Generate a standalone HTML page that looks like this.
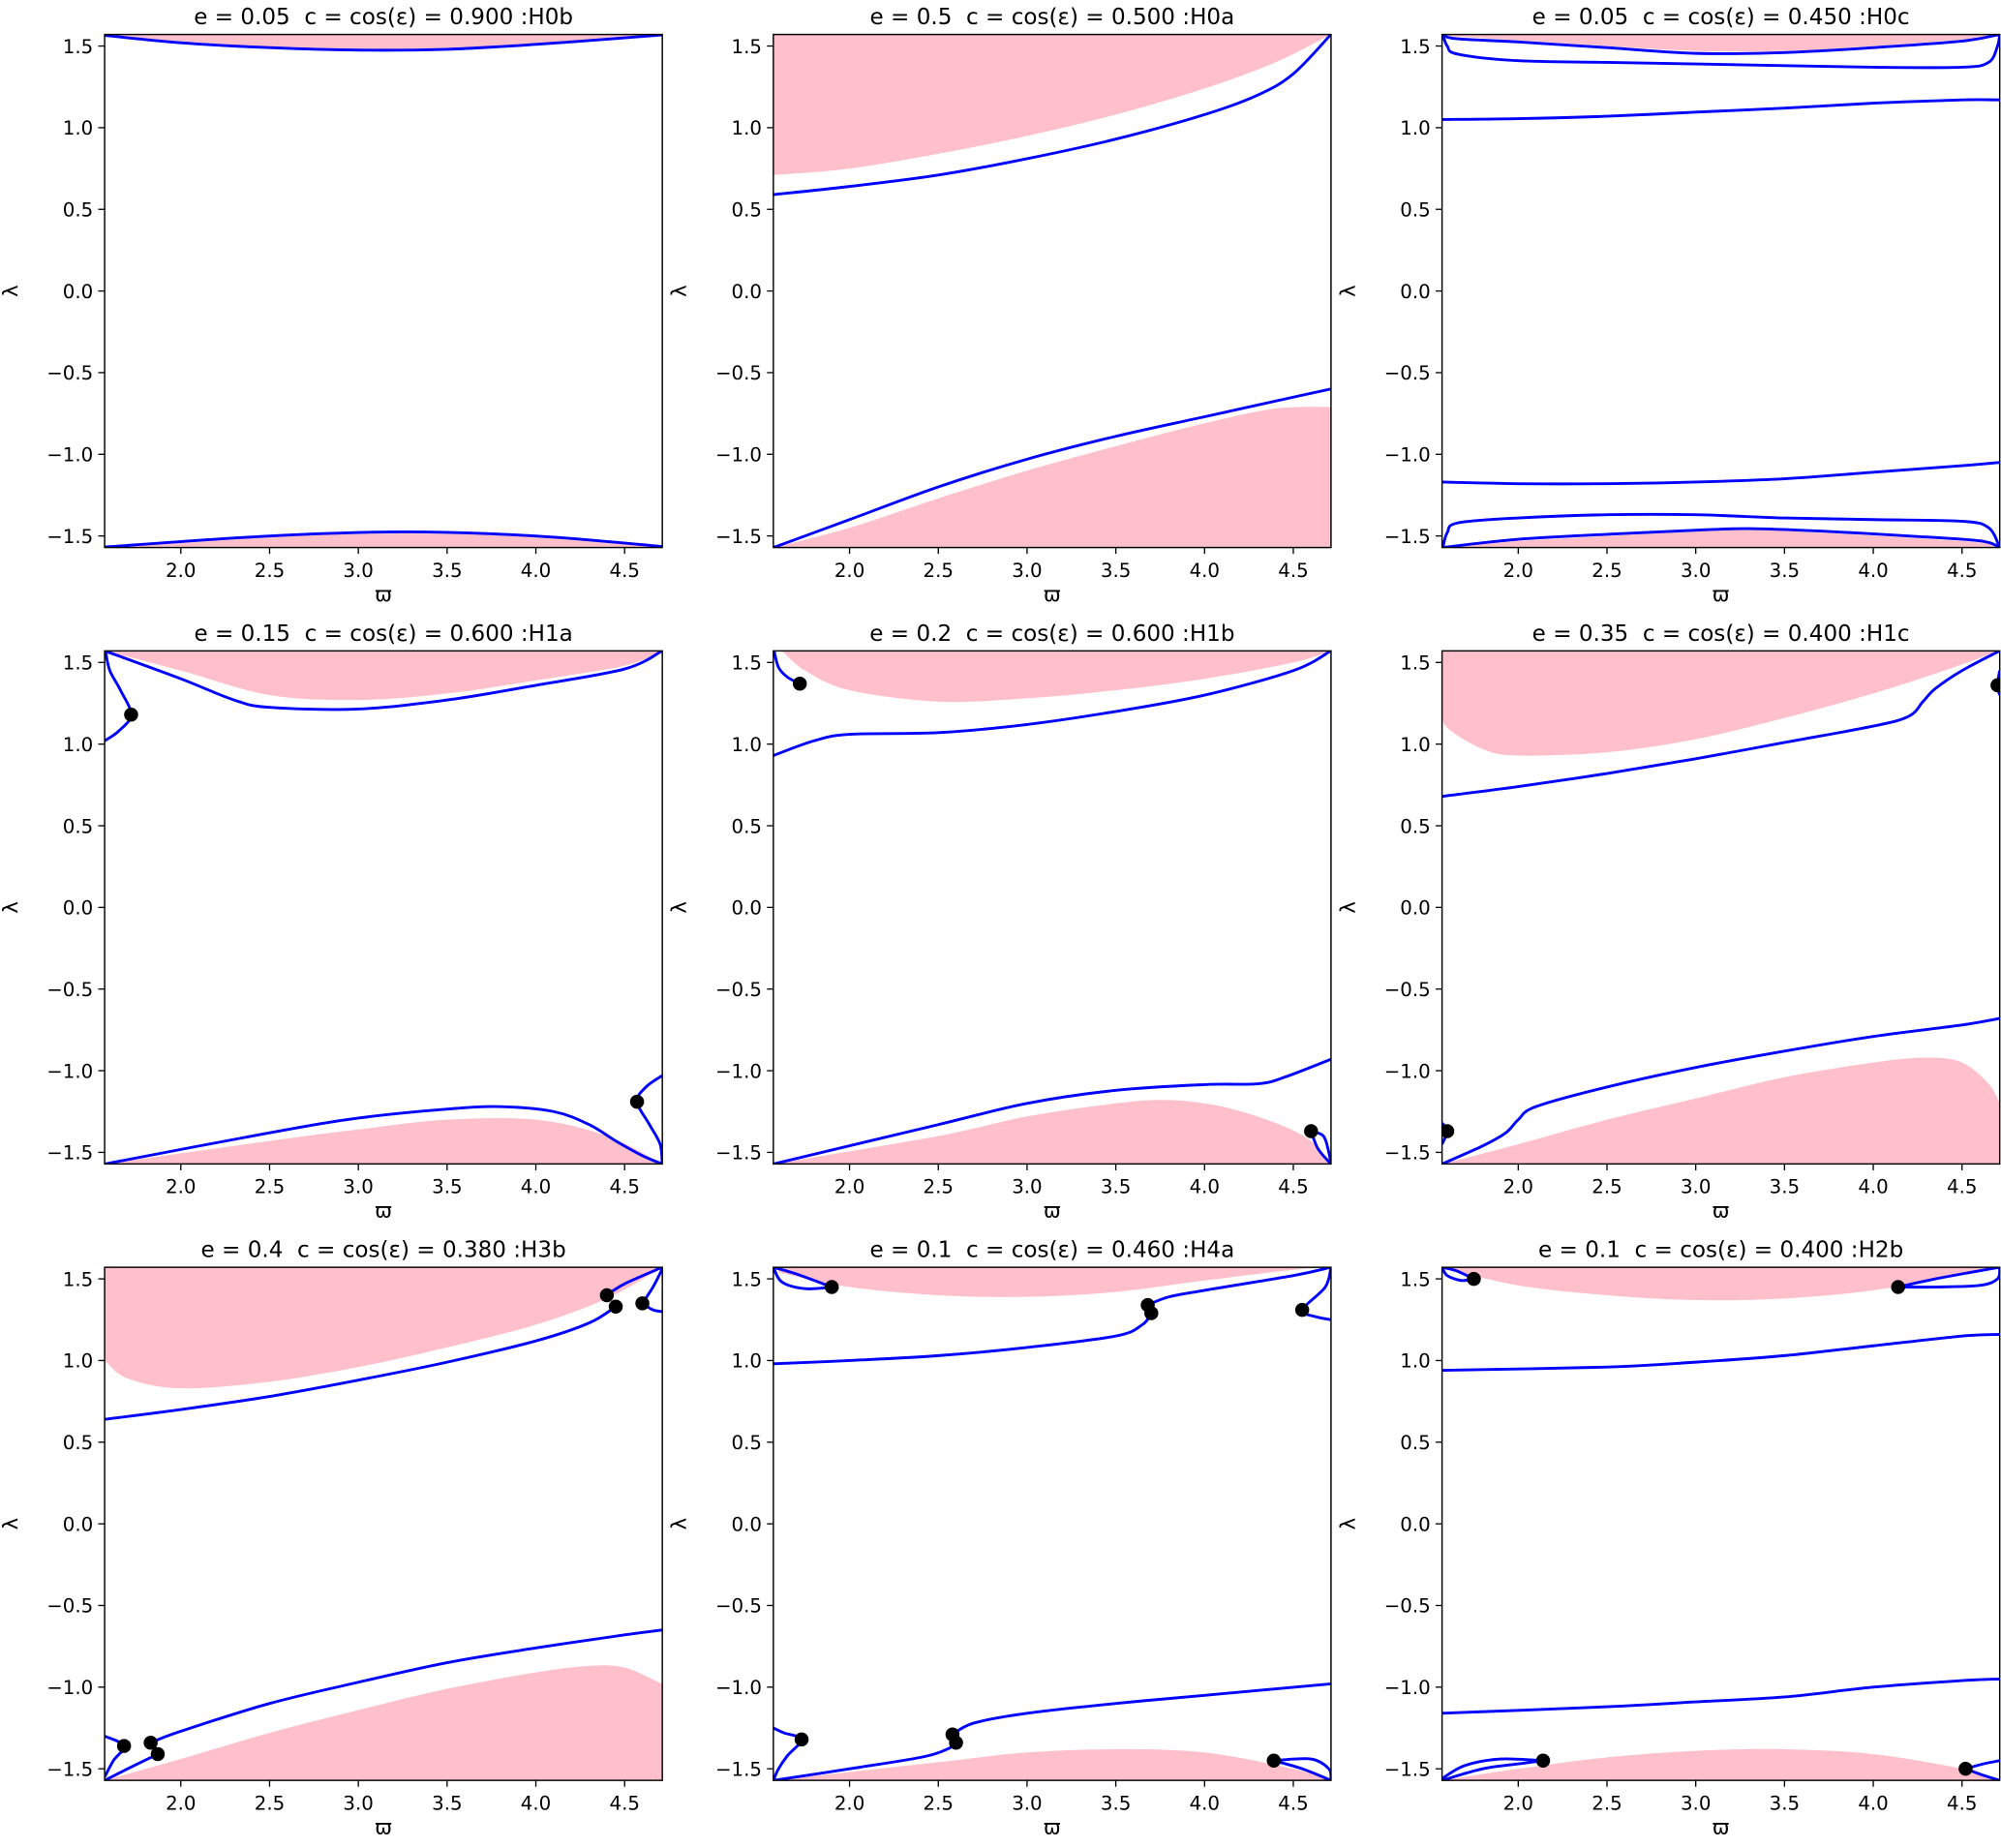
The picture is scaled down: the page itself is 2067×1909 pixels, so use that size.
<!DOCTYPE html>
<html>
<head>
<meta charset="utf-8">
<style>
html,body{margin:0;padding:0;background:#fff;}
svg{display:block;}
text{font-family:"DejaVu Sans","Liberation Sans",sans-serif;fill:#000;white-space:pre;}
</style>
</head>
<body>
<svg id="fig" xmlns="http://www.w3.org/2000/svg" xml:space="preserve" width="2067" height="1909" viewBox="0 0 1568 1448" preserveAspectRatio="none"></svg>
<script>
const panelTitles = [
 "e = 0.05  c = cos(\u03b5) = 0.900 :H0b",
 "e = 0.5  c = cos(\u03b5) = 0.500 :H0a",
 "e = 0.05  c = cos(\u03b5) = 0.450 :H0c",
 "e = 0.15  c = cos(\u03b5) = 0.600 :H1a",
 "e = 0.2  c = cos(\u03b5) = 0.600 :H1b",
 "e = 0.35  c = cos(\u03b5) = 0.400 :H1c",
 "e = 0.4  c = cos(\u03b5) = 0.380 :H3b",
 "e = 0.1  c = cos(\u03b5) = 0.460 :H4a",
 "e = 0.1  c = cos(\u03b5) = 0.400 :H2b"
];
const xTicks = [2.0,2.5,3.0,3.5,4.0,4.5];
const yTicks = [-1.5,-1.0,-0.5,0.0,0.5,1.0,1.5];
const xTickLabels = ["2.0","2.5","3.0","3.5","4.0","4.5"];
const yTickLabels = ["\u22121.5","\u22121.0","\u22120.5","0.0","0.5","1.0","1.5"];
const H = 1.5708, XMIN = 1.5708, XMAX = 4.7124;

const panelPinkTop = [
 [[1.571,1.562],[2.0,1.525],[2.5,1.495],[3.0,1.482],[3.5,1.487],[4.0,1.515],[4.5,1.553],[4.712,1.571]],
 [[1.571,0.71],[2.0,0.75],[2.5,0.84],[3.0,0.95],[3.5,1.08],[4.0,1.24],[4.4,1.4],[4.712,1.571]],
 [[1.6,1.56],[2.0,1.535],[2.5,1.50],[3.0,1.47],[3.5,1.47],[4.0,1.50],[4.5,1.54],[4.712,1.571]],
 [[1.571,1.571],[2.0,1.45],[2.5,1.30],[3.0,1.27],[3.5,1.31],[4.0,1.39],[4.5,1.48],[4.712,1.571]],
 [[1.62,1.571],[1.75,1.45],[2.0,1.33],[2.5,1.26],[3.0,1.28],[3.5,1.33],[4.0,1.40],[4.5,1.50],[4.712,1.571]],
 [[1.571,1.2],[1.6,1.1],[1.8,0.97],[2.0,0.93],[2.5,0.95],[3.0,1.03],[3.5,1.16],[4.0,1.31],[4.4,1.45],[4.712,1.571]],
 [[1.571,1.0],[1.7,0.89],[2.0,0.83],[2.5,0.87],[3.0,0.96],[3.5,1.08],[4.0,1.22],[4.4,1.38],[4.712,1.571]],
 [[1.6,1.54],[2.0,1.45],[2.5,1.40],[3.0,1.39],[3.5,1.42],[4.0,1.49],[4.5,1.555],[4.712,1.571]],
 [[1.6,1.56],[2.0,1.46],[2.5,1.40],[3.0,1.37],[3.5,1.38],[4.0,1.43],[4.5,1.53],[4.712,1.571]]
];
const panelPinkBottom = [
 [[1.571,-1.562],[2.5,-1.505],[3.25,-1.485],[4.0,-1.505],[4.712,-1.56]],
 [[1.571,-1.571],[2.0,-1.45],[2.5,-1.27],[3.0,-1.1],[3.5,-0.95],[4.0,-0.81],[4.4,-0.72],[4.712,-0.71]],
 [[1.571,-1.571],[2.0,-1.53],[2.5,-1.50],[3.0,-1.47],[3.3,-1.46],[3.7,-1.48],[4.2,-1.51],[4.6,-1.54],[4.712,-1.571]],
 [[1.571,-1.571],[2.5,-1.43],[3.0,-1.36],[3.5,-1.30],[4.0,-1.30],[4.4,-1.40],[4.712,-1.571]],
 [[1.571,-1.571],[2.5,-1.40],[3.0,-1.28],[3.5,-1.20],[3.8,-1.18],[4.1,-1.22],[4.4,-1.32],[4.6,-1.43],[4.712,-1.571]],
 [[1.571,-1.571],[2.0,-1.45],[2.5,-1.30],[3.0,-1.17],[3.5,-1.04],[4.0,-0.95],[4.3,-0.92],[4.5,-0.95],[4.65,-1.08],[4.712,-1.2]],
 [[1.571,-1.571],[2.0,-1.44],[2.5,-1.28],[3.0,-1.14],[3.5,-1.01],[4.0,-0.91],[4.3,-0.87],[4.5,-0.88],[4.712,-0.98]],
 [[1.571,-1.571],[2.5,-1.46],[3.0,-1.40],[3.5,-1.38],[4.0,-1.40],[4.5,-1.50],[4.712,-1.571]],
 [[1.571,-1.571],[2.0,-1.50],[2.5,-1.43],[3.0,-1.39],[3.5,-1.38],[4.0,-1.41],[4.5,-1.50],[4.712,-1.571]]
];
const panelCurves = [
 [
  [[1.571,1.565],[2.0,1.52],[2.5,1.49],[3.0,1.475],[3.5,1.48],[4.0,1.51],[4.5,1.55],[4.712,1.568]],
  [[1.571,-1.568],[2.5,-1.5],[3.25,-1.475],[4.0,-1.5],[4.712,-1.565]]
 ],
 [
  [[1.571,0.59],[2.0,0.64],[2.5,0.71],[3.0,0.81],[3.5,0.93],[4.0,1.08],[4.3,1.2],[4.5,1.33],[4.712,1.571]],
  [[1.571,-1.571],[2.0,-1.4],[2.5,-1.2],[3.0,-1.03],[3.5,-0.89],[4.0,-0.77],[4.5,-0.65],[4.712,-0.6]]
 ],
 [
  [[1.575,1.571],[1.65,1.545],[2.0,1.525],[2.5,1.49],[3.0,1.455],[3.5,1.46],[4.0,1.49],[4.5,1.53],[4.712,1.571]],
  [[1.575,1.571],[1.6,1.50],[1.66,1.45],[2.0,1.41],[2.5,1.40],[3.0,1.39],[3.5,1.38],[4.0,1.37],[4.5,1.37],[4.65,1.40],[4.70,1.50],[4.712,1.571]],
  [[1.571,1.05],[2.0,1.055],[2.5,1.07],[3.0,1.095],[3.5,1.12],[4.0,1.15],[4.5,1.17],[4.712,1.17]],
  [[1.571,-1.17],[2.0,-1.18],[2.5,-1.18],[3.0,-1.17],[3.5,-1.15],[4.0,-1.11],[4.5,-1.07],[4.712,-1.05]],
  [[1.575,-1.571],[1.6,-1.48],[1.66,-1.42],[2.0,-1.39],[2.5,-1.37],[3.0,-1.37],[3.5,-1.39],[4.0,-1.40],[4.5,-1.41],[4.65,-1.45],[4.712,-1.571]],
  [[1.571,-1.571],[2.0,-1.52],[2.5,-1.49],[3.0,-1.465],[3.3,-1.455],[3.7,-1.47],[4.2,-1.5],[4.6,-1.53],[4.712,-1.571]]
 ],
 [
  [[1.571,1.571],[2.0,1.40],[2.3,1.27],[2.5,1.225],[3.0,1.215],[3.5,1.27],[4.0,1.36],[4.5,1.46],[4.712,1.571]],
  [[1.571,1.02],[1.65,1.08],[1.72,1.18],[1.66,1.33],[1.6,1.45],[1.575,1.571]],
  [[1.571,-1.571],[2.5,-1.38],[3.0,-1.29],[3.5,-1.235],[3.8,-1.22],[4.1,-1.25],[4.3,-1.33],[4.45,-1.43],[4.6,-1.52],[4.712,-1.571]],
  [[4.712,-1.03],[4.62,-1.10],[4.57,-1.19],[4.64,-1.33],[4.7,-1.45],[4.712,-1.571]]
 ],
 [
  [[1.571,0.93],[1.8,1.02],[2.0,1.06],[2.5,1.07],[3.0,1.12],[3.5,1.2],[4.0,1.3],[4.5,1.45],[4.712,1.571]],
  [[1.575,1.571],[1.6,1.47],[1.65,1.41],[1.72,1.37]],
  [[1.571,-1.571],[2.5,-1.33],[3.0,-1.2],[3.5,-1.12],[4.0,-1.085],[4.3,-1.08],[4.45,-1.04],[4.712,-0.93]],
  [[4.6,-1.37],[4.67,-1.4],[4.7,-1.5],[4.712,-1.571]],
  [[4.6,-1.37],[4.64,-1.48],[4.712,-1.571]]
 ],
 [
  [[1.571,0.68],[2.0,0.74],[2.5,0.82],[3.0,0.91],[3.5,1.01],[4.0,1.11],[4.2,1.17],[4.28,1.26],[4.35,1.34],[4.5,1.45],[4.712,1.571]],
  [[4.712,1.3],[4.7,1.36],[4.712,1.45]],
  [[1.571,-1.571],[1.8,-1.46],[1.93,-1.38],[2.0,-1.3],[2.1,-1.22],[2.5,-1.1],[3.0,-0.98],[3.5,-0.88],[4.0,-0.79],[4.5,-0.72],[4.712,-0.68]],
  [[1.571,-1.32],[1.6,-1.37],[1.571,-1.45]]
 ],
 [
  [[1.571,0.64],[2.0,0.7],[2.5,0.78],[3.0,0.88],[3.5,0.99],[4.0,1.12],[4.3,1.23],[4.45,1.33]],
  [[4.4,1.4],[4.5,1.47],[4.712,1.571]],
  [[4.6,1.35],[4.66,1.45],[4.712,1.56]],
  [[4.6,1.35],[4.66,1.31],[4.712,1.3]],
  [[1.83,-1.34],[2.0,-1.27],[2.5,-1.1],[3.0,-0.97],[3.5,-0.85],[4.0,-0.76],[4.5,-0.68],[4.712,-0.65]],
  [[1.571,-1.3],[1.68,-1.36],[1.62,-1.45],[1.571,-1.55]],
  [[1.571,-1.571],[1.7,-1.5],[1.87,-1.41]]
 ],
 [
  [[1.571,1.571],[1.62,1.48],[1.75,1.44],[1.9,1.45]],
  [[1.571,1.571],[1.7,1.53],[1.9,1.45]],
  [[1.571,0.98],[2.0,1.0],[2.5,1.03],[3.0,1.08],[3.5,1.15],[3.65,1.22],[3.7,1.29]],
  [[3.68,1.34],[3.8,1.39],[4.0,1.43],[4.5,1.52],[4.712,1.571]],
  [[4.712,1.571],[4.68,1.45],[4.55,1.31],[4.62,1.27],[4.712,1.25]],
  [[1.571,-1.571],[2.0,-1.5],[2.4,-1.43],[2.55,-1.38],[2.6,-1.34]],
  [[2.58,-1.29],[2.7,-1.22],[3.0,-1.16],[3.5,-1.1],[4.0,-1.05],[4.712,-0.98]],
  [[1.571,-1.25],[1.63,-1.28],[1.73,-1.32],[1.65,-1.42],[1.6,-1.5],[1.571,-1.571]],
  [[4.39,-1.45],[4.55,-1.5],[4.712,-1.571]],
  [[4.39,-1.45],[4.6,-1.44],[4.7,-1.5],[4.712,-1.571]]
 ],
 [
  [[1.571,0.94],[2.5,0.96],[3.0,0.99],[3.5,1.03],[4.0,1.09],[4.5,1.15],[4.712,1.16]],
  [[1.571,1.571],[1.6,1.52],[1.68,1.49],[1.75,1.5]],
  [[1.571,1.571],[1.65,1.55],[1.75,1.5]],
  [[4.14,1.45],[4.35,1.45],[4.6,1.46],[4.7,1.5],[4.712,1.571]],
  [[4.14,1.45],[4.35,1.5],[4.6,1.55],[4.712,1.571]],
  [[1.571,-1.16],[2.5,-1.12],[3.0,-1.09],[3.5,-1.06],[4.0,-1.0],[4.5,-0.96],[4.712,-0.95]],
  [[1.571,-1.56],[1.7,-1.48],[1.9,-1.44],[2.14,-1.45]],
  [[1.571,-1.571],[1.8,-1.5],[2.0,-1.47],[2.14,-1.45]],
  [[4.52,-1.5],[4.62,-1.47],[4.712,-1.45]],
  [[4.52,-1.5],[4.62,-1.54],[4.712,-1.571]]
 ]
];
const panelDots = [
 [],[],[],
 [[1.72,1.18],[4.57,-1.19]],
 [[1.72,1.37],[4.6,-1.37]],
 [[4.7,1.36],[1.6,-1.37]],
 [[4.4,1.4],[4.45,1.33],[4.6,1.35],[1.68,-1.36],[1.83,-1.34],[1.87,-1.41]],
 [[1.9,1.45],[3.68,1.34],[3.7,1.29],[4.55,1.31],[1.73,-1.32],[2.58,-1.29],[2.6,-1.34],[4.39,-1.45]],
 [[1.75,1.5],[4.14,1.45],[2.14,-1.45],[4.52,-1.5]]
];

const NS = "http://www.w3.org/2000/svg";
const svg = document.getElementById('fig');
const colX = [82,606,1130], rowY = [27,510,993], PW = 437, PH = 402;
function mk(tag, attrs, parent){
  const el = document.createElementNS(NS, tag);
  for (const k in attrs) el.setAttribute(k, attrs[k]);
  parent.appendChild(el);
  return el;
}
function smoothPath(pts, sx, sy){
  const p = pts.map(q => [sx(q[0]), sy(q[1])]);
  let d = "M" + p[0][0].toFixed(2) + "," + p[0][1].toFixed(2);
  for (let i = 0; i < p.length - 1; i++){
    const p0 = p[i-1] || p[i], p1 = p[i], p2 = p[i+1], p3 = p[i+2] || p[i+1];
    const c1 = [p1[0] + (p2[0]-p0[0])/6, p1[1] + (p2[1]-p0[1])/6];
    const c2 = [p2[0] - (p3[0]-p1[0])/6, p2[1] - (p3[1]-p1[1])/6];
    d += " C" + c1[0].toFixed(2)+","+c1[1].toFixed(2)+" "+c2[0].toFixed(2)+","+c2[1].toFixed(2)+" "+p2[0].toFixed(2)+","+p2[1].toFixed(2);
  }
  return d;
}
for (let i = 0; i < 9; i++){
  const x0 = colX[i%3], y0 = rowY[Math.floor(i/3)];
  const sx = v => x0 + (v - XMIN) / (XMAX - XMIN) * PW;
  const sy = v => y0 + (H - v) / (2*H) * PH;
  const g = mk('g', {}, svg);
  
  
  const cp = mk('clipPath', {id: 'clip' + i}, g);
  mk('rect', {x: x0, y: y0, width: PW, height: PH}, cp);
  const plot = mk('g', {'clip-path': 'url(#clip' + i + ')'}, g);
  
  
  const pt = panelPinkTop[i];
  let d = smoothPath(pt, sx, sy) + " L" + sx(pt[pt.length-1][0]) + "," + (y0-2) + " L" + sx(pt[0][0]) + "," + (y0-2) + " Z";
  const pkT = mk('path', {d: d, fill: '#ffc0cb', stroke: 'none'}, plot);
  
  
  const pb = panelPinkBottom[i];
  d = smoothPath(pb, sx, sy) + " L" + sx(pb[pb.length-1][0]) + "," + (y0+PH+2) + " L" + sx(pb[0][0]) + "," + (y0+PH+2) + " Z";
  const pkB = mk('path', {d: d, fill: '#ffc0cb', stroke: 'none'}, plot);
  
  
  panelCurves[i].forEach(c => {
    const pth = mk('path', {d: smoothPath(c, sx, sy), fill: 'none', stroke: '#0000ff', 'stroke-width': 2.2, 'stroke-linejoin': 'round'}, plot);
    
    
  });
  panelDots[i].forEach(p => {
    const c = mk('circle', {cx: sx(p[0]), cy: sy(p[1]), r: 5.5, fill: '#000'}, plot);
    
    
  });
  const fr = mk('rect', {x: x0, y: y0, width: PW, height: PH, fill: 'none', stroke: '#000', 'stroke-width': 1.1}, g);
  
  
  xTicks.forEach((t, k) => {
    const X = sx(t);
    mk('line', {x1: X, x2: X, y1: y0+PH, y2: y0+PH+5, stroke: '#000', 'stroke-width': 1}, g);
    const tx = mk('text', {x: X, y: y0+PH+23, 'text-anchor': 'middle', 'font-size': 15}, g);
    tx.textContent = xTickLabels[k];
    
    
  });
  yTicks.forEach((t, k) => {
    const Y = sy(t);
    mk('line', {x1: x0-5, x2: x0, y1: Y, y2: Y, stroke: '#000', 'stroke-width': 1}, g);
    const tx = mk('text', {x: x0-9, y: Y+5.5, 'text-anchor': 'end', 'font-size': 15}, g);
    tx.textContent = yTickLabels[k];
    
    
  });
  const xl = mk('text', {x: x0 + PW/2, y: y0+PH+42, 'text-anchor': 'middle', 'font-size': 16}, g);
  xl.textContent = "\u03d6";
  
  
  const yl = mk('text', {x: 0, y: 0, 'text-anchor': 'middle', 'font-size': 16, transform: 'translate(' + (x0-68) + ',' + (y0+PH/2) + ') rotate(-90)'}, g);
  yl.textContent = "\u03bb";
  
  
  const tt = mk('text', {x: x0 + PW/2, y: y0-8, 'text-anchor': 'middle', 'font-size': 17.5}, g);
  tt.textContent = panelTitles[i];
  
  
}
</script>
</body>
</html>
